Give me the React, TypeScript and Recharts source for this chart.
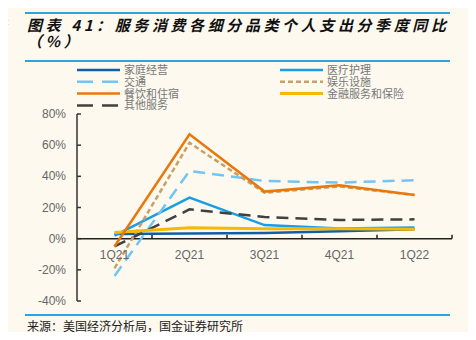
import React from 'react';
import { LineChart, Line, XAxis, YAxis, ReferenceLine, ReferenceDot } from 'recharts';

const categories = ['1Q21', '2Q21', '3Q21', '4Q21', '1Q22'];
const household = [3, 3.3, 3.7, 4.8, 6];
const medical = [2, 26.3, 8.7, 6.5, 7.2];
const transport = [-24, 43.5, 37, 36, 37.5];
const recreation = [-19, 61.5, 29.5, 33.5, 28];
const food = [-5, 67, 30.2, 34.3, 28];
const finance = [4, 7, 6.3, 6.3, 6];
const other = [-5, 18.8, 13.9, 12, 12.4];
const yTicks = [-40, -20, 0, 20, 40, 60, 80];

const series = [
  { key: 'household', name: '家庭经营', values: household, color: '#0f5fa8', dash: undefined as string | undefined, width: 2.5 },
  { key: 'medical', name: '医疗护理', values: medical, color: '#1a9de2', dash: undefined, width: 2.5 },
  { key: 'transport', name: '交通', values: transport, color: '#72c5f2', dash: '12 7', width: 2.5 },
  { key: 'recreation', name: '娱乐设施', values: recreation, color: '#c7a066', dash: '5 3', width: 2.5 },
  { key: 'food', name: '餐饮和住宿', values: food, color: '#e8780c', dash: undefined, width: 2.5 },
  { key: 'finance', name: '金融服务和保险', values: finance, color: '#f7b900', dash: undefined, width: 3 },
  { key: 'other', name: '其他服务', values: other, color: '#404040', dash: '12 7', width: 2.5 },
];

const legendOrder = ['household', 'medical', 'transport', 'recreation', 'food', 'finance', 'other'];
const drawOrder = ['household', 'medical', 'transport', 'other', 'recreation', 'finance', 'food'];

const data = categories.map((c, i) => {
  const row: Record<string, number | string> = { cat: c };
  series.forEach((s) => { row[s.key] = s.values[i]; });
  return row;
});

const W = 476;
const H = 340;
const M = { top: 114, right: 24, bottom: 39, left: 0 };
const Y_W = 77;
const BAND_HALF = (W - M.right - Y_W) / categories.length / 2;
const BG = '#fdf9ef';
const BLUE = '#2ea3e3';
const FONT_LAT = '"Liberation Sans", Arial, sans-serif';
const FONT_CJK = '"Noto Sans CJK SC", sans-serif';

const YTick = (props: any) => {
  const { x, y, payload } = props;
  return (
    <g>
      <line x1={x} x2={x + 4} y1={y} y2={y} stroke="#333" strokeWidth={1.5} />
      <text x={x - 11} y={y + 4} textAnchor="end" fontSize={12} fill="#666" fontFamily={FONT_LAT}>
        {payload.value}%
      </text>
    </g>
  );
};

const XLabel = (props: any) => {
  const { cx, cy, label } = props;
  return (
    <g>
      <text x={cx} y={cy + 20} textAnchor="middle" fontSize={12} fill="#666" fontFamily={FONT_LAT}>
        {label}
      </text>
      <line x1={cx + BAND_HALF} x2={cx + BAND_HALF} y1={cy} y2={cy - 4} stroke="#222" strokeWidth={1.5} />
    </g>
  );
};

const Legend = () => {
  const ordered = legendOrder.map((k) => series.find((s) => s.key === k)!);
  return (
    <svg width={W} height={60} style={{ position: 'absolute', left: 0, top: 58 }}>
      {ordered.map((s, i) => {
        const col = i % 2;
        const row = Math.floor(i / 2);
        const x0 = col === 0 ? 77 : 280;
        const y = 12 + row * 11.8;
        return (
          <g key={s.key}>
            <line x1={x0} x2={x0 + 43} y1={y} y2={y} stroke={s.color} strokeWidth={s.width} strokeDasharray={s.dash ? (s.key === 'recreation' ? '5 3' : '16 9') : undefined} />
            <text x={x0 + 47} y={y + 4} fontSize={11} fill="#777" fontFamily={FONT_CJK}>{s.name}</text>
          </g>
        );
      })}
    </svg>
  );
};

const titleStyle: React.CSSProperties = {
  position: 'absolute',
  fontFamily: FONT_CJK,
  fontWeight: 700,
  fontStyle: 'italic',
  fontSize: 15,
  letterSpacing: 3.6,
  color: '#111',
  lineHeight: '15px',
  whiteSpace: 'nowrap',
};

export default function App() {
  return (
    <div style={{ margin: -8, width: W, height: H, background: BG, position: 'relative', overflow: 'hidden' }}>
      <div style={{ position: 'absolute', left: 25, top: 12, width: 425, height: 2, background: BLUE }} />
      <div style={{ position: 'absolute', left: 0, top: 12, width: 5, height: 2, background: BLUE }} />
      <div style={{ position: 'absolute', left: 25, top: 60, width: 425, height: 2, background: BLUE }} />
      <div style={{ position: 'absolute', left: 0, top: 60, width: 5, height: 2, background: BLUE }} />
      <div style={{ position: 'absolute', left: 25, top: 314, width: 425, height: 2, background: BLUE }} />
      <div style={{ position: 'absolute', left: 0, top: 314, width: 5, height: 2, background: BLUE }} />
      <div style={{ ...titleStyle, left: -8, top: 17, letterSpacing: 0 }}>务</div>
      <div style={{ ...titleStyle, left: 27, top: 17 }}>图表 41：服务消费各细分品类个人支出分季度同比</div>
      <div style={{ ...titleStyle, left: 27, top: 33 }}>（%）</div>
      <Legend />
      <div style={{ position: 'absolute', left: 27, top: 318, fontFamily: FONT_CJK, fontSize: 12, color: '#222', whiteSpace: 'nowrap', lineHeight: '16px' }}>
        来源：美国经济分析局，国金证券研究所
      </div>
      <div style={{ position: 'absolute', left: 0, top: 0 }}>
        <LineChart width={W} height={H} data={data} margin={M}>
          <XAxis dataKey="cat" hide scale="band" />
          <YAxis
            width={Y_W}
            domain={[-40, 80]}
            ticks={yTicks}
            interval={0}
            tick={<YTick />}
            tickLine={false}
            tickSize={0}
            tickMargin={0}
            axisLine={{ stroke: '#333', strokeWidth: 1.5 }}
          />
          <ReferenceLine y={0} stroke="#222" strokeWidth={1.5} />
          {categories.map((c) => (
            <ReferenceDot key={c} x={c} y={0} r={0} shape={(p: any) => <XLabel {...p} label={c} />} />
          ))}
          {drawOrder.map((k) => {
            const s = series.find((x) => x.key === k)!;
            return (
              <Line
                key={k}
                type="linear"
                dataKey={k}
                name={s.name}
                stroke={s.color}
                strokeWidth={s.width}
                strokeDasharray={s.dash}
                dot={false}
                isAnimationActive={false}
              />
            );
          })}
        </LineChart>
      </div>
    </div>
  );
}
